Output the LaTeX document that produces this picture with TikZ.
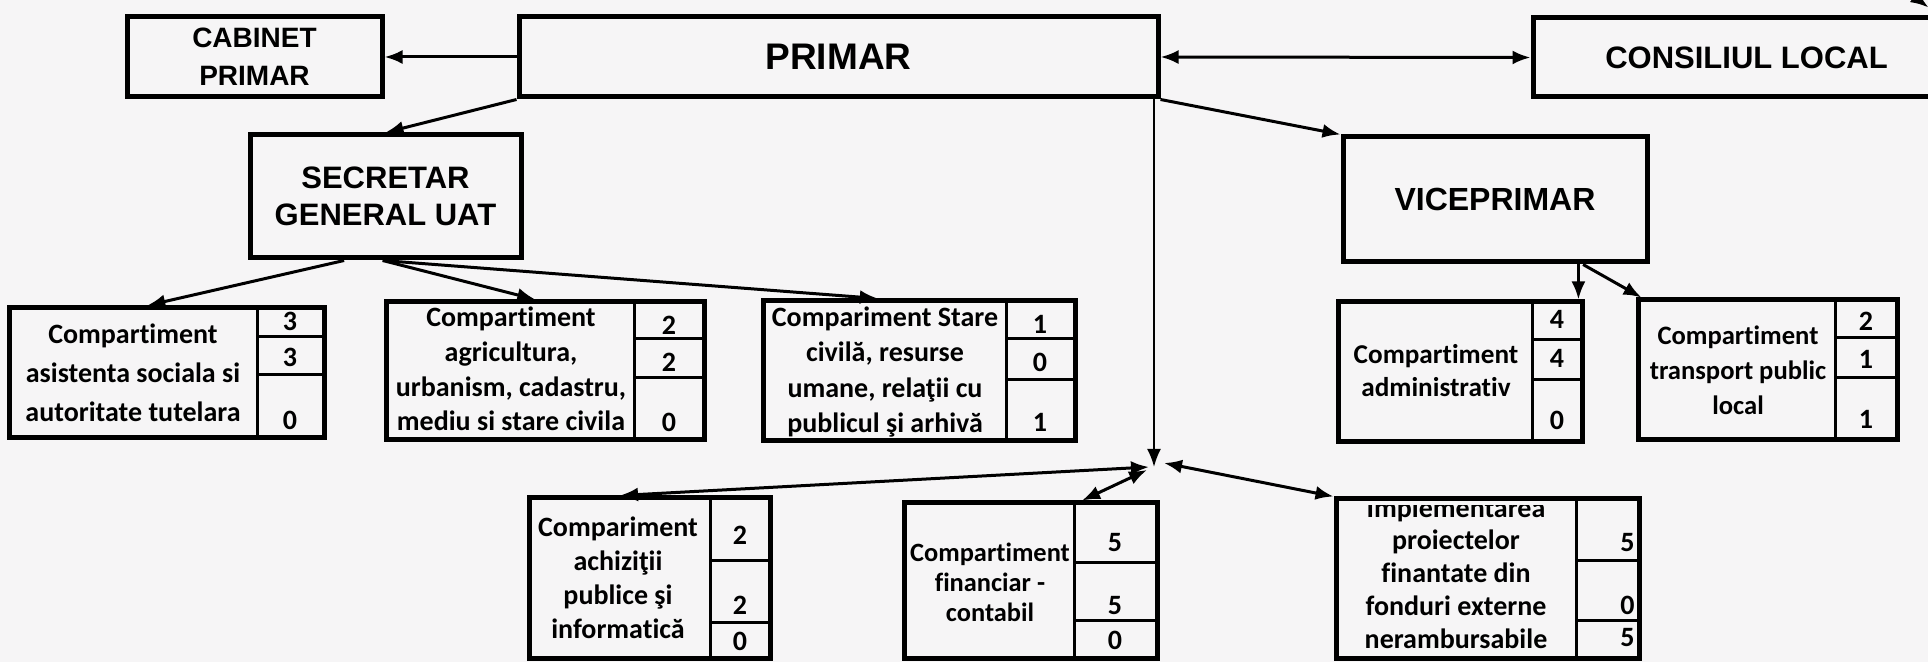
\documentclass[tikz,border=0pt]{standalone}
\usepackage{fontspec}
\setmainfont{Liberation Sans}
\newfontfamily\carl[Ligatures=CommonOff]{Carlito}
\usetikzlibrary{arrows.meta,calc}
\definecolor{paper}{RGB}{246,245,246}
\newcommand\fsz[2]{\fontsize{#1pt}{#2pt}\selectfont}
\newcommand\rbox[7][]{\node[box,#1,minimum width={(#5-#3)*0.5pt},minimum height={(#6-#4)*0.5pt}] (#2) at ({(#3+#5)/2},{(#4+#6)/2}) {#7};}
\newcommand\comp[8]{%
  \rbox{#1}{#2}{#3}{#4}{#5}{}%
  \draw[div] (#6,#3) -- (#6,#5);
  \draw[div] (#6,#7) -- (#4,#7);
  \draw[div] (#6,#8) -- (#4,#8);}
\begin{document}
\begin{tikzpicture}[x=0.5pt,y=-0.5pt,
  box/.style={draw,line width=2.5pt,inner sep=0pt,align=center},
  ttl/.style={font=\bfseries\fsz{15.5}{18.5}},
  ctext/.style={align=center,inner sep=0pt,font=\carl\bfseries\fsz{14}{#1}},
  num/.style={inner sep=0pt,font=\carl\bfseries\fsz{14}{14}},
  div/.style={line width=1.5pt},
  arr/.style={line width=1.5pt,-{Latex[length=9pt,width=7pt]}},
  arrtwo/.style={line width=1.5pt,{Latex[length=9pt,width=7pt]}-{Latex[length=9pt,width=7pt]}}]
\useasboundingbox (0,0) rectangle (1928,662);
\clip (0,0) rectangle (1928,662);
\fill[paper] (0,0) rectangle (1928,662);

% top level
\rbox[font=\bfseries\fsz{14}{19}]{cab}{127}{17}{382}{97}{CABINET\\PRIMAR}
\rbox[font=\bfseries\fsz{18.5}{20}]{primar}{519}{17}{1158}{97}{PRIMAR}
\rbox[ttl]{cons}{1533}{18}{1940}{97}{\hspace*{10pt}CONSILIUL LOCAL}
\rbox[ttl]{sec}{250}{135}{521}{258}{SECRETAR\\GENERAL UAT}
\rbox[ttl,font=\bfseries\fsz{16}{18}]{vice}{1343}{137}{1647}{262}{VICEPRIMAR}

% compartments
\comp{b1}{9}{308}{324}{438}{257}{337}{375}
\node[ctext=19.5] (t1) at (133,373) {Compartiment\\asistenta sociala si\\autoritate tutelara};
\node[num] (n1a) at (290,321) {3};
\node[num] (n1b) at (290,357) {3};
\node[num] (n1c) at (290,420) {0};

\comp{b2}{386}{302}{704}{440}{634}{339}{378}
\node[ctext=17.4] (t2) at (511,369) {Compartiment\\agricultura,\\urbanism, cadastru,\\mediu si stare civila};
\node[num] (n2a) at (669,325) {2};
\node[num] (n2b) at (669,362) {2};
\node[num] (n2c) at (669,422) {0};

\comp{b3}{763}{301}{1075}{441}{1006}{339}{380}
\node[ctext=17.8] (t3) at (885,372) {Compariment Stare\\civilă, resurse\\umane, relaţii cu\\publicul şi arhivă};
\node[num] (n3a) at (1040,324) {1};
\node[num] (n3b) at (1040,362) {0};
\node[num] (n3c) at (1040,422) {1};

\comp{b7}{1338}{302}{1582}{442}{1532}{340}{380}
\node[ctext=16.5,font=\carl\bfseries\fsz{13.6}{16.5}] (t7) at (1436,371) {Compartiment\\administrativ};
\node[num] (n7a) at (1557,319) {4};
\node[num] (n7b) at (1557,358) {4};
\node[num] (n7c) at (1557,420) {0};

\comp{b8}{1638}{300}{1897}{440}{1835}{338}{378}
\node[ctext=17.5,font=\carl\bfseries\fsz{13.3}{17.5}] (t8) at (1738,370) {Compartiment\\transport public\\local};
\node[num] (n8a) at (1866,321) {2};
\node[num] (n8b) at (1866,359) {1};
\node[num] (n8c) at (1866,419) {1};

\comp{b4}{529}{498}{770}{658}{710}{560}{622}
\node[ctext=17] (t4) at (618,578) {Compariment\\achiziţii\\publice şi\\informatică};
\node[num] (n4a) at (740,535) {2};
\node[num] (n4b) at (740,605) {2};
\node[num] (n4c) at (740,641) {0};

\comp{b5}{904}{503}{1157}{658}{1074}{562}{620}
\node[ctext=15,font=\carl\bfseries\fsz{13.2}{15}] (t5) at (990,582) {Compartiment\\financiar -\\contabil};
\node[num] (n5a) at (1115,543) {5};
\node[num] (n5b) at (1115,606) {5};
\node[num] (n5c) at (1115,640) {0};

\comp{b6}{1336}{499}{1639}{658}{1576}{560}{620}
\begin{scope}
\clip (1336,506) rectangle (1576,658);
\node[ctext=16.4] (t6) at (1456,573) {Implementarea\\proiectelor\\finantate din\\fonduri externe\\nerambursabile};
\end{scope}
\node[num,anchor=east] (n6a) at (1635,543) {5};
\node[num,anchor=east] (n6b) at (1635,605) {0};
\node[num,anchor=east] (n6c) at (1635,638) {5};

% connectors
\draw[arr] (primar.west) -- (cab.east);
\draw[arrtwo] (primar.east) -- (cons.west);
\draw[arr] (primar.south west) -- (sec.north);
\draw[arr] (primar.south east) -- (vice.north west);
\coordinate (hub) at (1154,467);
\draw[line width=1.1pt,-{Latex[length=9pt,width=7pt]}] (primar.south east -| hub) -- (hub);
\draw[arrtwo] ($(hub)+(-5,0)$) -- ($(b4.north west)!0.38!(b4.north east)$);
\draw[arrtwo] ($(hub)+(-7,3)$) -- ($(b5.north west)!0.7!(b5.north east)$);
\draw[arrtwo] ($(hub)+(10,-4)$) -- (b6.north west);

\coordinate (s1) at ($(sec.south west)!0.35!(sec.south east)$);
\coordinate (s2) at ($(sec.south west)!0.49!(sec.south east)$);
\draw[arr] (s1) -- ($(b1.north west)!0.44!(b1.north east)$);
\draw[arr] (s2) -- ($(b2.north west)!0.47!(b2.north east)$);
\draw[arr] (s2) -- ($(b3.north west)!0.37!(b3.north east)$);

\coordinate (v1) at ($(vice.south west)!0.77!(vice.south east)$);
\coordinate (v2) at ($(vice.south west)!0.785!(vice.south east)$);
\draw[arr] (v1) -- (v1 |- b7.north);
\draw[arr] (v2) -- ($(b8.north west)+(6,0)$);

\coordinate (ext) at (1908,-8);
\draw[arr] (ext) -- ($(cons.north east)+(-14,-8)$);
\end{tikzpicture}
\end{document}
